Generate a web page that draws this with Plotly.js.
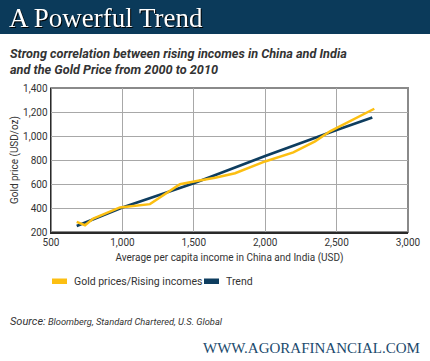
<!DOCTYPE html>
<html>
<head>
<meta charset="utf-8">
<script src="https://cdn.plot.ly/plotly-3.0.1.min.js"></script>
<style>
html,body{margin:0;padding:0;background:#fff;}
#chart{width:430px;height:361px;}
</style>
</head>
<body>
<div id="chart"></div>
<script>
// Data
const goldIncome = [680, 738, 796, 983, 1193, 1403, 1520, 1649, 1789, 1999, 2197, 2349, 2454, 2582, 2764];
const goldPrice  = [284, 256, 312, 405, 432, 598, 625, 652, 690, 788, 863, 955, 1039, 1115, 1227];
const trendIncome = [680, 1000, 1500, 2000, 2500, 2750];
const trendPrice  = [250, 405, 606, 833, 1050, 1154];
const xTicks = [500, 1000, 1500, 2000, 2500, 3000];
const yTicks = [200, 400, 600, 800, 1000, 1200, 1400];
const seriesNames = ['Gold prices/Rising incomes', 'Trend'];

const W = 430, H = 361;
const M = {l: 51, r: 22, t: 88, b: 129};
const PW = W - M.l - M.r, PH = H - M.t - M.b;
const px = x => (x - M.l) / PW;
const py = y => (H - M.b - y) / PH;

const GOLD = '#fcbf12';
const NAVY = '#0e3d5f';
const TXT = '#333333';
const SANS = 'Roboto, "Open Sans", sans-serif';
const SERIF = '"Liberation Serif", "DejaVu Serif", serif';

const traces = [
  {x: trendIncome, y: trendPrice, name: seriesNames[1], type: 'scatter', mode: 'lines',
   line: {color: NAVY, width: 2.7}, showlegend: false},
  {x: goldIncome, y: goldPrice, name: seriesNames[0], type: 'scatter', mode: 'lines',
   line: {color: GOLD, width: 2.5}, showlegend: false}
];

const ann = (x, y, text, opts) => Object.assign({
  xref: 'paper', yref: 'paper', x: px(x), y: py(y), text: text, showarrow: false,
  xanchor: 'left', yanchor: 'middle', font: {family: SANS, size: 10, color: TXT}
}, opts || {});

const annotations = [
  ann(7, 18, 'A Powerful Trend', {name: 'headline', font: {family: SERIF, size: 27, color: '#ffffff'}}),
  ann(8, 53, '<b><i>Strong correlation between rising incomes in China and India</i></b>', {font: {family: SANS, size: 12.7, color: TXT}}),
  ann(8, 69, '<b><i>and the Gold Price from 2000 to 2010</i></b>', {font: {family: SANS, size: 12.7, color: TXT}}),
  ann(72, 281, seriesNames[0], {font: {family: SANS, size: 10.5, color: TXT}}),
  ann(224, 281, seriesNames[1], {font: {family: SANS, size: 10.5, color: TXT}}),
  ann(8, 321, '<i>Source:</i>', {font: {family: SANS, size: 11, color: TXT}}),
  ann(46, 321, '<i>Bloomberg, Standard Chartered, U.S. Global</i>', {font: {family: SANS, size: 9.3, color: TXT}}),
  ann(422, 348, 'WWW.AGORAFINANCIAL.COM', {xanchor: 'right', font: {family: SERIF, size: 15, color: '#1b4a6d'}})
];

const shapes = [
  {type: 'rect', xref: 'paper', yref: 'paper', x0: px(0), x1: px(430), y0: py(0), y1: py(34),
   fillcolor: '#0b3a5a', line: {width: 0}, layer: 'below'},
  {type: 'rect', xref: 'paper', yref: 'paper', x0: 0, x1: 1, y0: 0, y1: 1,
   fillcolor: 'rgba(0,0,0,0)', line: {color: '#8a8a8a', width: 2}, layer: 'below'},
  {type: 'rect', xref: 'paper', yref: 'paper', x0: px(52), x1: px(67), y0: py(278.5), y1: py(284),
   fillcolor: GOLD, line: {width: 0}},
  {type: 'rect', xref: 'paper', yref: 'paper', x0: px(204), x1: px(219), y0: py(278.5), y1: py(284),
   fillcolor: NAVY, line: {width: 0}}
];

const layout = {
  width: W, height: H,
  margin: M,
  paper_bgcolor: '#ffffff', plot_bgcolor: '#ffffff',
  showlegend: false,
  font: {family: SANS, size: 10, color: TXT},
  xaxis: {
    range: [500, 3000], tickvals: xTicks, tickformat: ',d',
    showgrid: true, gridcolor: '#a8a8a8', gridwidth: 1,
    showline: true, linecolor: '#2a2a2a', linewidth: 1.5, mirror: false,
    ticks: '', zeroline: false, fixedrange: true,
    title: {text: 'Average per capita income in China and India (USD)', font: {size: 10, color: TXT}, standoff: 7}
  },
  yaxis: {
    range: [200, 1400], tickvals: yTicks, tickformat: ',d',
    showgrid: true, gridcolor: '#a8a8a8', gridwidth: 1,
    showline: true, linecolor: '#2a2a2a', linewidth: 1.5, mirror: false,
    ticks: '', zeroline: false, fixedrange: true,
    title: {text: 'Gold price (USD/oz)', font: {size: 10, color: TXT}, standoff: 2}
  },
  annotations: annotations,
  shapes: shapes
};

Plotly.newPlot('chart', traces, layout, {staticPlot: true, displayModeBar: false}).then(gd => {
  const t = gd.querySelector('.annotation[data-index="0"] text');
  if (t) t.style.filter = 'drop-shadow(1.5px 1.5px 0.6px rgba(0,0,0,0.95))';
});
</script>
</body>
</html>
